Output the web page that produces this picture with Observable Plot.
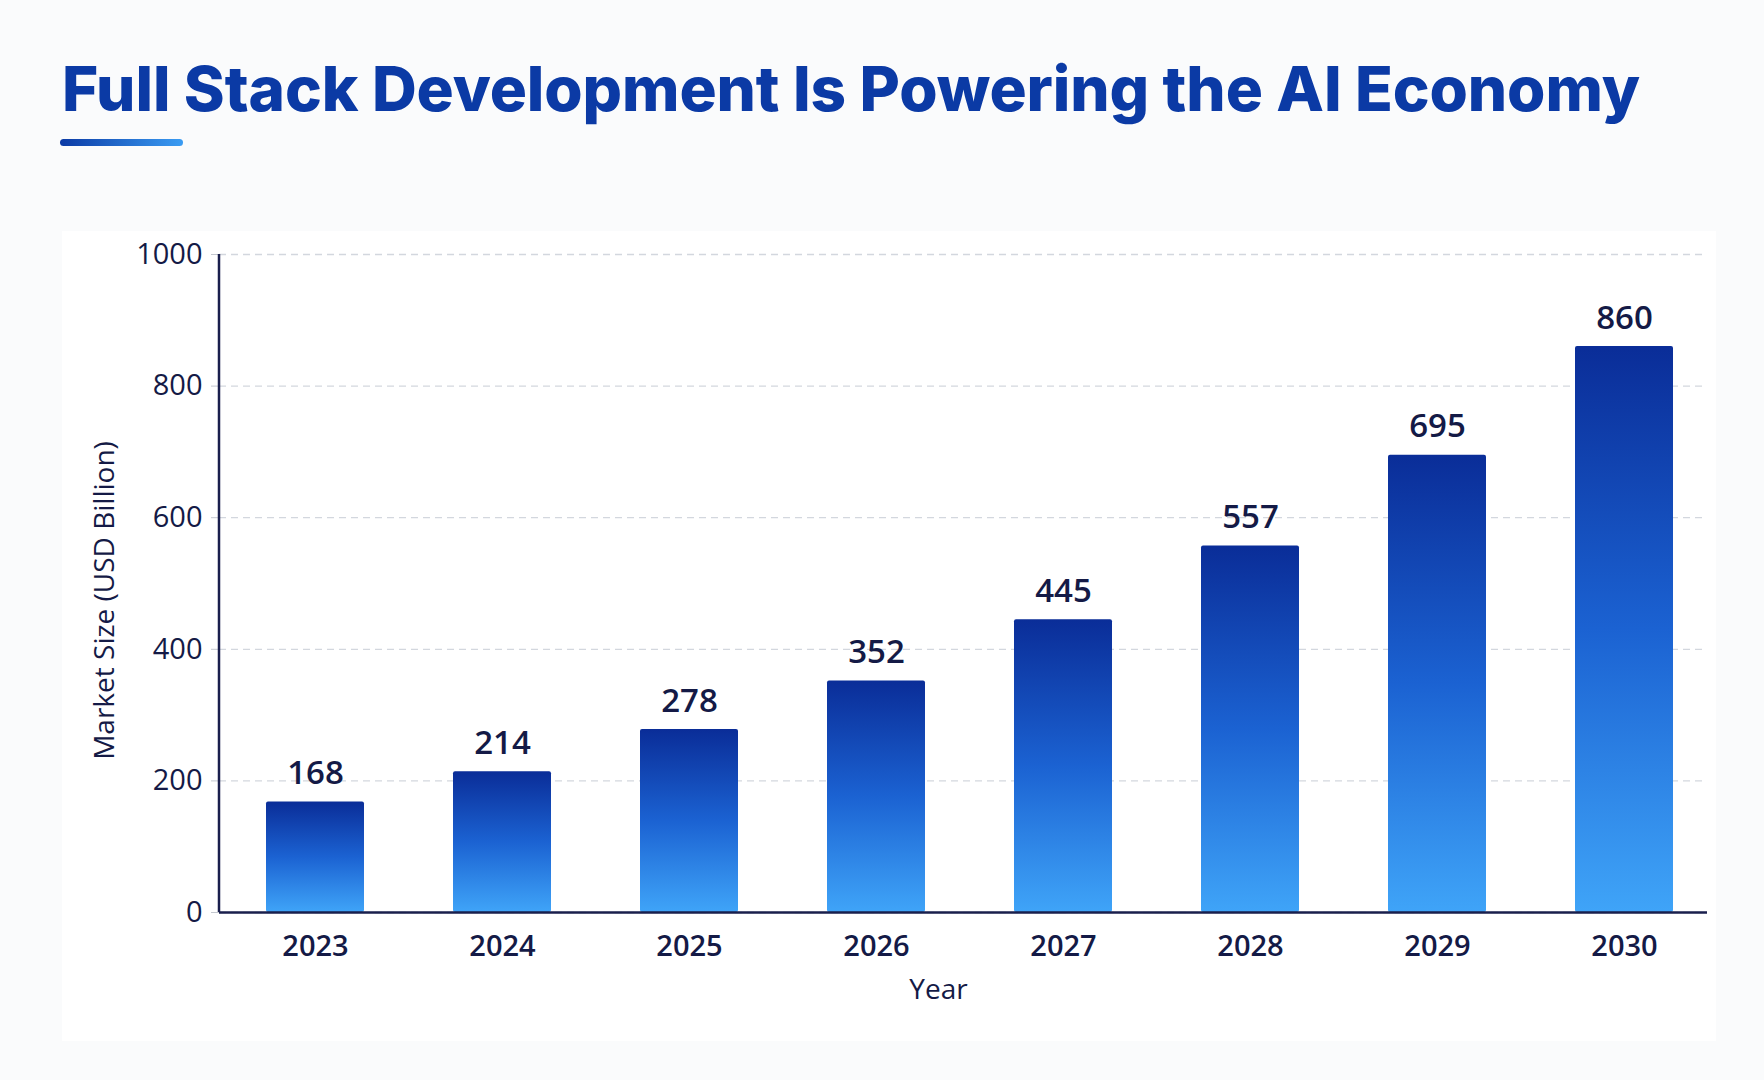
<!DOCTYPE html>
<html>
<head>
<meta charset="utf-8">
<script src="https://cdn.jsdelivr.net/npm/d3@7"></script>
<script src="https://cdn.jsdelivr.net/npm/@observablehq/plot@0.6"></script>
<style>
  html, body { margin: 0; padding: 0; }
  body { width: 1764px; height: 1080px; background: #fafbfc; position: relative; overflow: hidden; font-family: "Open Sans", sans-serif; }
  #header { position: relative; height: 200px; }
  #title { position: absolute; left: 62px; top: 46px; margin: 0; font-family: Inter, "Open Sans", sans-serif; font-weight: 800; font-size: 62px; line-height: 86px; color: #0b3aa5; white-space: nowrap; }
  #underline { position: absolute; left: 60px; top: 139px; width: 123px; height: 7px; border-radius: 4px; background: linear-gradient(90deg, #0b3aa5, #3a9cf3); }
  #panel { position: absolute; left: 62px; top: 231px; width: 1654px; height: 810px; background: #ffffff; }
  #chart { position: relative; }
  #chart svg { display: block; }
</style>
</head>
<body>
<div id="panel"></div>
<div id="header">
  <h1 id="title">Full Stack Development Is Powering the AI Economy</h1>
  <div id="underline"></div>
</div>
<div id="chart"></div>
<script>
const years = ["2023", "2024", "2025", "2026", "2027", "2028", "2029", "2030"];
const marketSize = [168, 214, 278, 352, 445, 557, 695, 860];
const yTicks = [0, 200, 400, 600, 800, 1000];
const yLabel = "Market Size (USD Billion)";
const xLabel = "Year";

const data = years.map((year, i) => ({year, value: marketSize[i]}));
const navy = "#141a46";

// fit title to reference width
const title = document.getElementById("title");
const targetWidth = 1578;
const w0 = title.getBoundingClientRect().width;
const chars = title.textContent.length;
title.style.letterSpacing = ((targetWidth - w0) / (chars - 1)) + "px";

const defs = () => {
  const g = d3.create("svg:defs");
  const grad = g.append("linearGradient").attr("id", "barGrad").attr("x1", 0).attr("y1", 0).attr("x2", 0).attr("y2", 1);
  grad.append("stop").attr("offset", "0%").attr("stop-color", "#0a2d98");
  grad.append("stop").attr("offset", "50%").attr("stop-color", "#1b62d2");
  grad.append("stop").attr("offset", "100%").attr("stop-color", "#3fa4f8");
  return g.node();
};

const leftAxisLine = (index, scales, values, dimensions) => {
  const {marginLeft, marginTop, height, marginBottom} = dimensions;
  const l = d3.create("svg:line")
    .attr("x1", marginLeft).attr("x2", marginLeft)
    .attr("y1", marginTop).attr("y2", height - marginBottom)
    .attr("stroke", "#1a1f4d").attr("stroke-width", 2.5);
  return l.node();
};

const chart = Plot.plot({
  width: 1764,
  height: 880,
  marginLeft: 219,
  marginRight: 57,
  marginTop: 54,
  marginBottom: 168,
  style: {background: "transparent", fontFamily: "'Open Sans', sans-serif", color: navy},
  x: {domain: years, paddingInner: 0.476, paddingOuter: 0.2135, align: 0.575, label: null},
  y: {domain: [0, 1000], label: null},
  marks: [
    defs,
    Plot.gridY(yTicks, {stroke: "#d3d7de", strokeOpacity: 1, strokeWidth: 1.3, strokeDasharray: "7,5"}),
    Plot.axisY(yTicks, {tickSize: 8, tickPadding: 9, stroke: "#c3c7cf", fill: navy, fontSize: 29, fontWeight: 500, label: null, tickFormat: d => String(d)}),
    Plot.axisX({tickSize: 0, tickPadding: 23, fill: navy, fontSize: 29, fontWeight: 600, label: null}),
    Plot.barY(data, {x: "year", y: "value", fill: "url(#barGrad)", rx: 2}),
    Plot.ruleY([0], {stroke: "#1a1f4d", strokeWidth: 2.5}),
    leftAxisLine,
    Plot.text(data, {x: "year", y: "value", text: d => String(d.value), lineAnchor: "bottom", dy: -18, fontSize: 33, fontWeight: 600, fill: navy}),
    Plot.text([yLabel], {frameAnchor: "left", textAnchor: "middle", rotate: -90, dx: -114, dy: 17, fontSize: 28, fontWeight: 400, fill: navy}),
    Plot.text([xLabel], {frameAnchor: "bottom", textAnchor: "middle", dx: -25, dy: 86, fontSize: 28, fontWeight: 500, fill: navy})
  ]
});
document.getElementById("chart").appendChild(chart);
</script>
</body>
</html>
